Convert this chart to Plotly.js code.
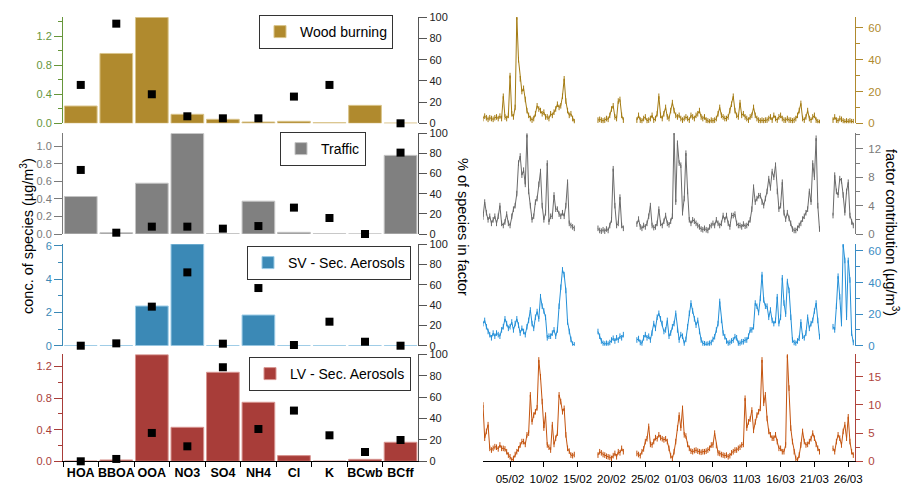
<!DOCTYPE html>
<html>
<head>
<meta charset="utf-8">
<script src="https://cdn.plot.ly/plotly-3.0.1.min.js"></script>
<style>html,body{margin:0;padding:0;background:#fff;}#chart{width:903px;height:485px;}</style>
</head>
<body>
<div id="chart"></div>
<script>
// ---------------- DATA ----------------
const species = ['HOA','BBOA','OOA','NO3','SO4','NH4','Cl','K','BCwb','BCff'];

const factorNames = ['Wood burning','Traffic','SV - Sec. Aerosols','LV - Sec. Aerosols'];

// concentration of species in factor (µg/m3)
const concWB  = [0.238, 0.962, 1.46, 0.124, 0.055, 0.018, 0.027, 0.009, 0.247, 0.003];
const concTR  = [0.428, 0.015, 0.58, 1.148, 0.004, 0.375, 0.019, 0.002, 0.001, 0.898];
const concSV  = [0.01, 0.01, 2.38, 6.1, 0.01, 1.84, 0.01, 0.005, 0.01, 0.01];
const concLV  = [0.003, 0.017, 1.35, 0.431, 1.128, 0.748, 0.072, 0.002, 0.025, 0.241];

// % of species in factor
const pctWB = [36.2, 94, 27.4, 6.6, 4.7, 4.7, 25.2, 36.2, 98, 0];
const pctTR = [63.6, 1.3, 7.3, 7.3, 5.3, 7.9, 26.2, 15.9, 0, 80.8];
const pctSV = [0, 2.3, 38.4, 72.1, 2, 56.7, 0.7, 23.6, 3.9, 0];
const pctLV = [0, 2.2, 26.5, 14, 87.9, 30.2, 47.4, 24.3, 8.7, 19.9];

// time series: 6-hourly values, one row per day starting 01/02 00:00
const n = null;
const tsStart = '2012-02-01T00:00:00Z';
const tsStepHours = 6;

const tsWB = [
 [3,4.5,3.5,2.5],[3.5,3,2.5,3.5],[4,3,4.5,3],[17,4,3,5],[30,6,4,10],
 [67,40,28,20],[22,15,8,5],[3,2,3,6],[11,9,8,6],[7,4,4,3],
 [6,5,7,9],[12,10,11,17],[28,14,8,5],[6,3,1,n],[n,n,n,n],
 [n,n,n,n],[n,n,n,n],[2,2.5,2,1.5],[2,3,2.5,5],[9,11,4,3],
 [14,15,5,2],[n,n,n,n],[n,n,n,2],[5,2,1.5,3],[4,1.5,2,3],
 [5,2,3,6],[17,5,3,6],[10,4,3,8],[13,8,5,4],[5,3,2,3],
 [4,3,2,5],[4,3,5,6],[8,4,3,4],[2,1.5,1,2],[1.5,2,3,6],
 [10,5,4,3],[3,4,8,12],[17,8,5,4],[13,5,6,4],[3,2,4,5],
 [10,5,3,2],[1.5,2,1.5,2],[2,3,4,2],[5,3,2,4],[5,3,2,2],
 [3,2,2,1.5],[2,3,5,8],[12.5,3,2,4],[8,3,2,4],[5,2,1,0.5],
 [n,n,n,n],[n,n,n,2],[4,2,1.5,3],[2.5,1.5,1,1.5],[1,1.5,1,1]
];
const tsTR = [
 [2.4,4.5,3,2],[2.5,1.5,2,2.5],[1.5,2.5,4,1.5],[1.2,1.7,2.8,1.5],[1.2,2.5,3.5,4],
 [5.7,10,11,8.3],[9,7,14,6],[4,2,2.5,4.5],[5,7,8.8,4],[2,3,10,1.7],
 [2.5,2.5,5.5,3.5],[3.5,2.8,2.5,3],[2.5,4,7.3,1.5],[1.2,1,0.8,n],[n,n,n,n],
 [n,n,n,n],[n,n,n,n],[0.8,0.5,0.4,0.6],[0.4,0.7,0.5,1.2],[2,9.2,4,1.2],
 [1.5,5.2,1.2,0.8],[n,n,n,n],[n,n,n,1.4],[2.1,1,0.8,1.2],[1,1.5,2.5,4],
 [1.2,0.9,1,1.5],[3.5,1.5,1.2,1.8],[2.6,1.5,1.3,1.8],[2.5,14.4,4.5,12.8],[10,9.7,3,5],
 [11.4,6,2,1.5],[2,1.8,1.5,1.2],[1,0.7,0.6,0.8],[0.6,0.5,1,1.2],[1.5,1.2,2,1.5],
 [1.2,1.5,2.6,2],[2.6,1.5,1,2.6],[2.6,2.8,1.5,1.2],[1.2,1,1.4,1.1],[1.2,1.5,2,3.5],
 [6.6,4.5,5,5.4],[5.4,4.5,4,5],[6,7.8,6.5,8.8],[8,9.7,6,3.5],[4,7.3,3,2.1],
 [3,2.2,1.5,0.7],[0.5,0.5,0.8,1.2],[1.5,2.1,2.5,3],[3.5,6,4.5,10],[8,13.5,4,0.7],
 [n,n,n,n],[n,n,n,2.6],[8.3,6,5.5,7.8],[7.5,5.5,3,6],[7.3,2.6,1.7,1.2]
];
const tsSV = [
 [14,16,12,9],[7,5,8,6],[8,7,6,10],[12,17,14,11],[12,15,10,14],
 [17,13,8,11],[9,7,12,16],[22.6,14,11,18],[21.6,17,31,25],[22,18,5,6],
 [6,8,10,6],[10,25,37,48],[45,35,15,9],[4,1,0.5,n],[n,n,n,n],
 [n,n,n,n],[n,n,n,n],[9,6,3,1.5],[1,1.5,1,2],[3.6,4.7,3,5],
 [3.6,6,5,7],[n,n,n,n],[n,n,n,3.6],[4.5,2,1.5,5],[7,5,6,3.6],
 [8,14,11,18],[20.5,17,14,9],[10,16,6,8],[12,14,20.5,10],[3.6,7,6,1.5],
 [4,12,20.5,27],[22,17,13,16],[9,3.6,1.5,1.2],[0.8,1,1.5,2],[4,5.7,10,14],
 [28,16,8,5.7],[3,1.5,2,3],[3.6,5.7,5,1.5],[1.5,2.5,2.5,3.6],[3.6,6,10,10],
 [12,27,25,21],[30,45,29,25],[25,18,22.6,16],[14,16,31,14],[18,43,27,20],
 [40.6,35,18,3.6],[2,1.5,3,4.7],[15,6,5,8],[18,11,14,16],[22,27,16,5.7],
 [n,n,n,n],[n,n,n,12],[10,25,44,31],[14,64,54,18],[54,41.6,8,2]
];
const tsLV = [
 [10,4.1,5.3,6.5],[2.3,2,2.3,2.6],[2.5,2.2,2.9,2.3],[2.3,2.2,1.7,1.1],[0.8,0.2,0.5,1.2],
 [1.7,2.2,2.9,3.5],[3.5,3,4.7,5],[11.8,7,8.2,8.8],[9.5,18,15,10.6],[5.9,8.2,2.9,2.5],
 [2,6.5,3,4.1],[5,11.8,10.6,8.8],[9.4,4.7,2.3,1.8],[1.1,1,1.2,n],[n,n,n,n],
 [n,n,n,n],[n,n,n,n],[1.1,1.7,1.5,1.2],[1.1,0.9,0.8,0.7],[0.5,1,1.4,0.8],
 [1.7,1.5,2.3,1.7],[n,n,n,n],[n,n,n,1.4],[1.2,1,1.7,2.2],[3.5,4,6.2,3],
 [2.9,3.5,4.2,4],[4.7,4.2,4,3.8],[4,3.5,2.3,1],[0.5,1.7,3.5,5.9],[8.2,5.9,9.4,4.7],
 [4.5,3,2.3,1.8],[1.7,1.9,2,1.8],[1.7,1.6,1.7,1.7],[1.8,2,2.3,2.9],[2.9,5,2.8,1.5],
 [1.4,1.2,1.1,1],[1.1,0.8,1,1.5],[1.7,2,2,2.3],[2.5,2.9,3,11.2],[5.9,7,7.5,9.1],
 [5.5,7,8.2,8.8],[9.4,18,10.3,11.8],[7.6,5.3,4.7,4.1],[4.1,4.7,3.5,2.3],[2.3,1.7,1.7,2.9],
 [18.8,13,5.9,3.5],[1.7,0.5,0.2,1.1],[2.9,5.3,3.5,2.9],[3,3.5,4,5],[4.1,3,2.3,1.7],
 [n,n,n,n],[n,n,n,2.3],[1.7,3.5,4.7,4.1],[2.9,5.3,6.5,4.1],[7.9,3.5,1.7,1.1]
];

const dateTickVals = ['2012-02-05','2012-02-10','2012-02-15','2012-02-20','2012-02-25',
                      '2012-03-01','2012-03-06','2012-03-11','2012-03-16','2012-03-21','2012-03-26'];

// ---------------- STYLE ----------------
const FONT = 'Liberation Sans, Arial, sans-serif';
const W = 903, H = 485;
const px = v => v / W;
const py = v => 1 - v / H;
const dom = [
  [py(123.3), py(17.3)],
  [py(234.0), py(133.3)],
  [py(345.7), py(244.0)],
  [py(461.3), py(354.3)]
];
const barCol  = ['#B08A2E', '#808080', '#3B89B6', '#A83D39'];
const barEdge = ['#D9C48A', '#C4C4C4', '#9ACBE6', '#D89590'];
const axCol   = ['#66963A', '#7A7A7A', '#3B89B6', '#A83D39'];
const tsCol   = ['#A47B12', '#6A6A6A', '#2490D8', '#C4540F'];
const tsAxCol = ['#B08A2E', '#7A7A7A', '#3A8CC4', '#B0443C'];

function times() {
  const t0 = Date.parse(tsStart);
  const out = [];
  for (let i = 0; i < tsWB.length * 4; i++) {
    const d = new Date(t0 + i * tsStepHours * 3600e3);
    out.push(d.toISOString().slice(0, 16).replace('T', ' '));
  }
  return out;
}
const tx = times();

const concs = [concWB, concTR, concSV, concLV];
const pcts = [pctWB, pctTR, pctSV, pctLV];
const tss = [tsWB, tsTR, tsSV, tsLV];

const traces = [];
for (let i = 0; i < 4; i++) {
  traces.push({
    type: 'bar', x: species, y: concs[i], name: factorNames[i],
    xaxis: 'x', yaxis: i === 0 ? 'y' : 'y' + (i + 1),
    legend: i === 0 ? 'legend' : 'legend' + (i + 1),
    marker: {color: barCol[i], line: {color: barEdge[i], width: 1}},
    hoverinfo: 'skip'
  });
  traces.push({
    type: 'scatter', mode: 'markers', x: species, y: pcts[i],
    xaxis: 'x', yaxis: 'y' + (i + 5), showlegend: false,
    marker: {symbol: 'square', color: '#000', size: 8},
    hoverinfo: 'skip', cliponaxis: false
  });
  traces.push({
    type: 'scatter', mode: 'lines+markers', x: tx, y: tss[i].flat(),
    xaxis: 'x2', yaxis: 'y' + (i + 9), showlegend: false,
    line: {color: tsCol[i], width: 1},
    marker: {symbol: 'line-ns-open', size: 4, line: {color: tsCol[i], width: 1}},
    connectgaps: false, hoverinfo: 'skip'
  });
}

const layout = {
  width: W, height: H,
  margin: {l: 0, r: 0, t: 0, b: 0},
  paper_bgcolor: '#fff', plot_bgcolor: 'rgba(0,0,0,0)',
  font: {family: FONT, color: '#000'},
  bargap: 0.08,
  hovermode: false,
  xaxis: {
    domain: [px(63), px(418.3)], anchor: 'y4', type: 'category', range: [-0.5, 9.5],
    showline: true, linecolor: '#000', linewidth: 1,
    ticks: 'outside', tickson: 'boundaries', ticklen: 5, tickcolor: '#000',
    tickangle: 0,
    tickfont: {family: FONT, size: 12.5, color: '#000', weight: 'bold'},
    showgrid: false, zeroline: false, automargin: false
  },
  xaxis2: {
    domain: [px(483), px(855)], anchor: 'y12', type: 'date',
    range: ['2012-02-01 00:00', '2012-03-27 00:00'],
    tickvals: dateTickVals, tickformat: '%d/%m', tickangle: 0,
    ticks: 'outside', ticklen: 5, tickcolor: '#000',
    showline: true, linecolor: '#000', linewidth: 1,
    tickfont: {family: FONT, size: 11.5, color: '#000'},
    ticklabelstandoff: 2,
    showgrid: false, zeroline: false, automargin: false
  },
  annotations: [
    {xref: 'paper', yref: 'paper', x: px(27), y: py(236), text: 'conc. of species (µg/m<sup>3</sup>)',
     textangle: -90, showarrow: false, xanchor: 'center', yanchor: 'middle', font: {size: 14.5, family: FONT}},
    {xref: 'paper', yref: 'paper', x: px(463), y: py(227), text: '% of species in factor',
     textangle: 90, showarrow: false, xanchor: 'center', yanchor: 'middle', font: {size: 14.5, family: FONT}},
    {xref: 'paper', yref: 'paper', x: px(892), y: py(232), text: 'factor contribution (µg/m<sup>3</sup>)',
     textangle: 90, showarrow: false, xanchor: 'center', yanchor: 'middle', font: {size: 14.5, family: FONT}}
  ]
};

const leftRanges = [[0, 1.46], [0, 1.15], [0, 6.1], [0, 1.356]];
const leftDtick = [0.4, 0.2, 2, 0.4];
const leftMinor = [0.2, null, 1, 0.2];
const leftFmt = ['.1f', '.1f', 'd', '.1f'];
const tsRanges = [[0, 66.7], [0, 14.2], [0, 64.4], [0, 19]];
const tsDtick = [20, 4, 20, 5];
const tsMinor = [10, 2, 10, 2.5];
const legRight = [393, 366, 411, 411];
const legTop = [15, 132, 246, 357];

for (let i = 0; i < 4; i++) {
  const yk = i === 0 ? 'yaxis' : 'yaxis' + (i + 1);
  const ax = {
    domain: dom[i], anchor: 'x', side: 'left', range: leftRanges[i],
    dtick: leftDtick[i], tick0: 0, tickformat: leftFmt[i],
    showline: true, linecolor: axCol[i], linewidth: 1,
    ticks: 'outside', ticklen: 8, tickcolor: axCol[i],
    tickfont: {family: FONT, size: 11, color: axCol[i]},
    showgrid: false, zeroline: false, automargin: false
  };
  if (leftMinor[i]) ax.minor = {dtick: leftMinor[i], ticks: 'outside', ticklen: 4, tickcolor: axCol[i], showgrid: false};
  layout[yk] = ax;

  layout['yaxis' + (i + 5)] = {
    overlaying: i === 0 ? 'y' : 'y' + (i + 1), anchor: 'x', side: 'right', range: [0, 100],
    dtick: 20, tick0: 0,
    showline: true, linecolor: '#555', linewidth: 1,
    ticks: 'outside', ticklen: 8, tickcolor: '#555',
    tickfont: {family: FONT, size: 11, color: '#222'},
    showgrid: false, zeroline: false, automargin: false
  };

  layout['yaxis' + (i + 9)] = {
    domain: dom[i], anchor: 'x2', side: 'right', range: tsRanges[i],
    dtick: tsDtick[i], tick0: 0,
    showline: true, linecolor: tsAxCol[i], linewidth: 1,
    ticks: 'outside', ticklen: 7, tickcolor: tsAxCol[i],
    minor: {dtick: tsMinor[i], ticks: 'outside', ticklen: 4, tickcolor: tsAxCol[i], showgrid: false},
    tickfont: {family: FONT, size: 11.5, color: tsAxCol[i]},
    ticklabelstandoff: 3,
    showgrid: false, zeroline: false, automargin: false
  };

  layout[i === 0 ? 'legend' : 'legend' + (i + 1)] = {
    x: px(legRight[i]), y: py(legTop[i]), xanchor: 'right', yanchor: 'top',
    xref: 'paper', yref: 'paper',
    bgcolor: '#fff', bordercolor: '#333', borderwidth: 1,
    font: {family: FONT, size: 14, color: '#000'},
    itemclick: false, itemdoubleclick: false
  };
}

Plotly.newPlot('chart', traces, layout, {staticPlot: true, displayModeBar: false});
</script>
</body>
</html>
